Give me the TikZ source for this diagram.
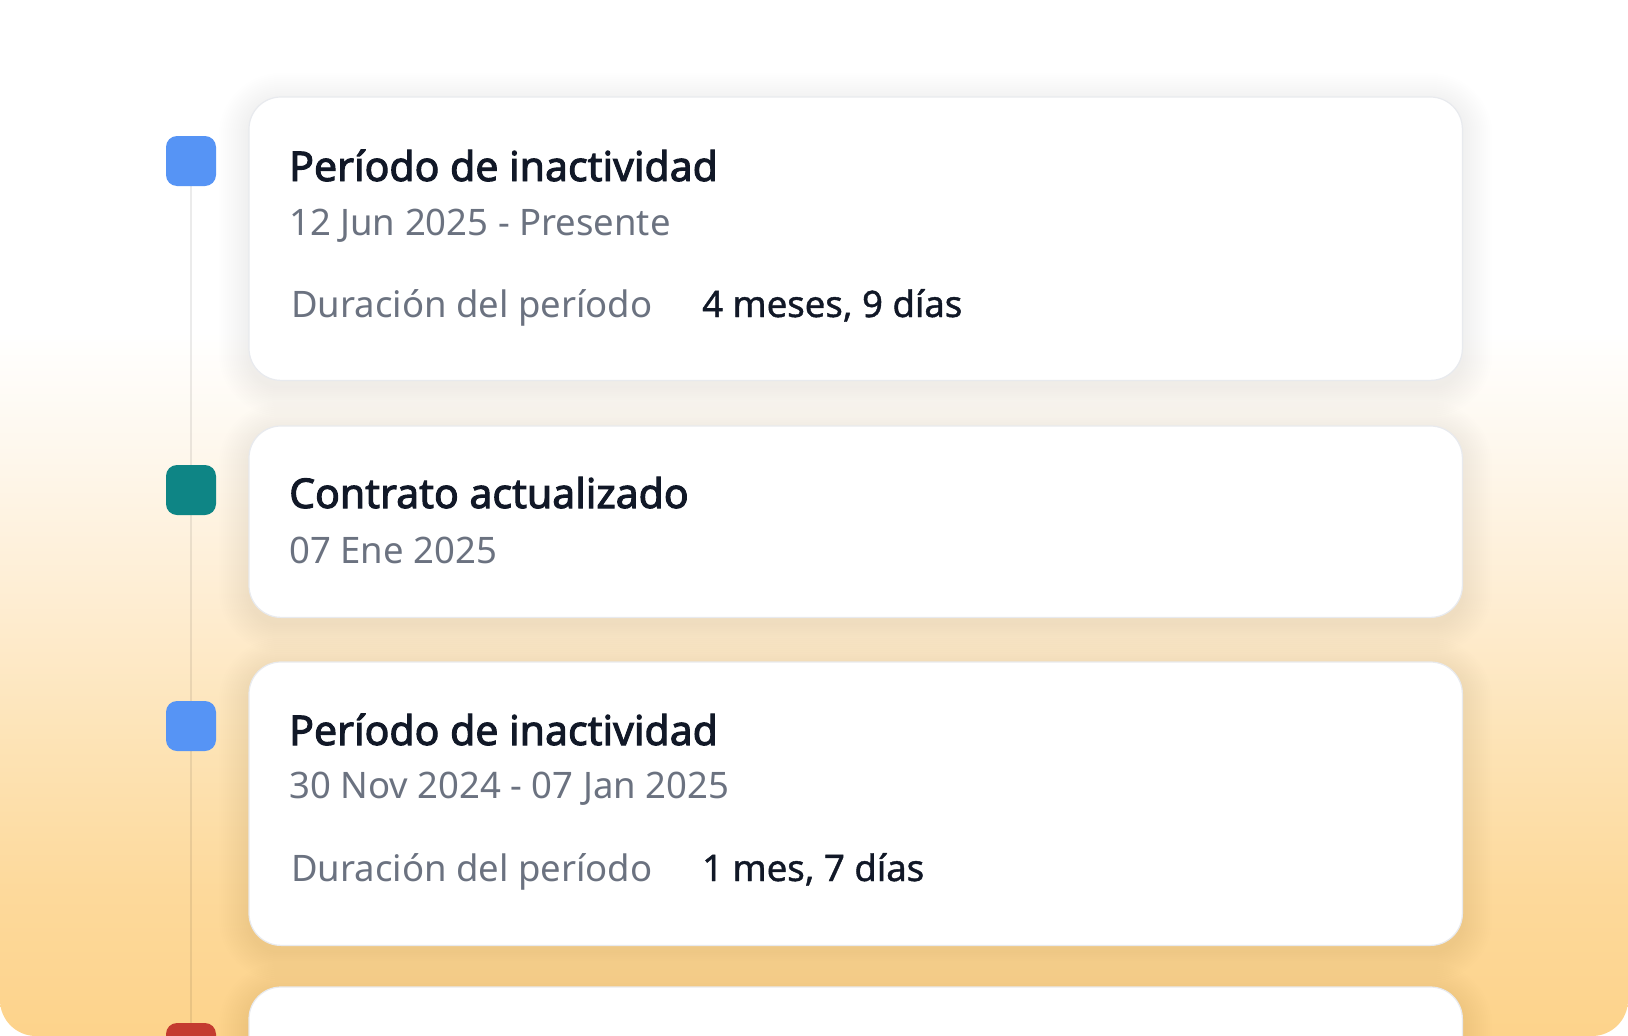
\documentclass[tikz,border=0pt]{standalone}
\usepackage{fontspec}
\setmainfont{Noto Sans}[AutoFakeBold=2.4]
\newfontface\medfont{Noto Sans}[FakeBold=1.1]
\definecolor{titlec}{HTML}{111827}
\definecolor{grayc}{HTML}{6B7280}
\definecolor{bluec}{HTML}{5694F5}
\definecolor{tealc}{HTML}{0E8585}
\definecolor{redc}{HTML}{C43B30}
\definecolor{cardborder}{HTML}{E8EAEE}
\definecolor{bgA}{HTML}{FDD38B}
\definecolor{bgB}{HTML}{FDD99B}
\definecolor{bgC}{HTML}{FDE3B5}
\definecolor{bgD}{HTML}{FEEDD2}
\definecolor{bgE}{HTML}{FEF7EC}
\pgfdeclareverticalshading{bgshade}{100bp}{%
 color(0bp)=(bgA);
 color(25bp)=(bgA);
 color(32bp)=(bgB);
 color(39bp)=(bgC);
 color(46bp)=(bgD);
 color(53bp)=(bgE);
 color(59bp)=(white);
 color(100bp)=(white)}
\tikzset{
 cardbox/.style={draw=none, fill=none, anchor=north west, minimum width=1213pt, inner sep=0pt},
 cardface/.style={fill=white, draw=cardborder, line width=1.2pt, rounded corners=32pt},
 dot/.style={fill=#1, draw=none, rounded corners=11pt, minimum size=50pt, inner sep=0pt},
 rail/.style={draw=black, draw opacity=0.08, line width=1.6pt},
 title/.style={anchor=base west, inner sep=0pt, text=titlec, font=\fontsize{41}{46}\selectfont\bfseries},
 sub/.style={anchor=base west, inner sep=0pt, text=grayc, font=\fontsize{36.5}{42}\selectfont},
 val/.style={anchor=base west, inner sep=0pt, text=titlec, font=\fontsize{36.5}{42}\selectfont\medfont},
}
\begin{document}
\begin{tikzpicture}[x=1pt,y=-1pt]
\useasboundingbox (0,0) rectangle (1628,1036);
\begin{scope}
\clip (0,0) -- (1628,0) [rounded corners=36pt] -- (1628,1036) -- (0,1036) [sharp corners] -- cycle;
\shade[shading=bgshade] (0,0) rectangle (1628,1036);
% timeline squares
\node[dot=bluec] (s1) at (191,161) {};
\node[dot=tealc] (s2) at (191,490) {};
\node[dot=bluec] (s3) at (191,726) {};
\node[dot=redc] (s4) at (191,1048) {};
\draw[rail] (s1.south) -- (s2.north);
\draw[rail] (s2.south) -- (s3.north);
\draw[rail] (s3.south) -- (s4.north);
% cards
\node[cardbox, minimum height=283pt] (c1) at (249,97) {};
\node[cardbox, minimum height=191pt] (c2) at (249,426) {};
\node[cardbox, minimum height=283pt] (c3) at (249,662) {};
\node[cardbox, minimum height=283pt] (c4) at (249,987) {};
\foreach \c in {c1,c2,c3,c4}{
  \foreach \e in {2,4,...,30}{
    \pgfmathsetmacro\rr{32+\e}
    \fill[black, opacity=0.0042, rounded corners=\rr pt]
      ([xshift=-\e pt, yshift=\e pt-6pt]\c.north west) rectangle ([xshift=\e pt, yshift=-\e pt-6pt]\c.south east);
  }
}
\foreach \c in {c1,c2,c3,c4}{
  \draw[cardface] (\c.north west) rectangle (\c.south east);
}
% texts card 1
\node[title] (t1) at (289,181) {Período de inactividad};
\node[sub] (d1) at (289,235) {12 Jun 2025 - Presente};
\node[sub] (l1) at (291,317) {Duración del período};
\node[val] (v1) at (702,317) {4 meses, 9 días};
% card 2
\node[title] (t2) at (289,508) {Contrato actualizado};
\node[sub] (d2) at (289,563) {07 Ene 2025};
% card 3
\node[title] (t3) at (289,745) {Período de inactividad};
\node[sub] (d3) at (289,798) {30 Nov 2024 - 07 Jan 2025};
\node[sub] (l3) at (291,881) {Duración del período};
\node[val] (v3) at (702,881) {1 mes, 7 días};
\end{scope}
\end{tikzpicture}
\end{document}
